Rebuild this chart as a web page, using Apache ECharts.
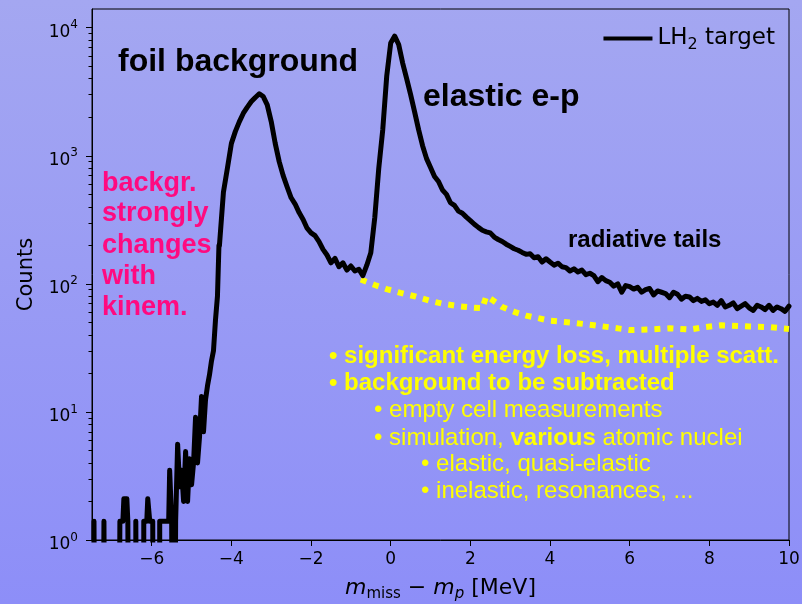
<!DOCTYPE html>
<html><head><meta charset="utf-8">
<script src="https://cdn.jsdelivr.net/npm/echarts@6/dist/echarts.min.js"></script>
<style>
html,body{margin:0;padding:0;}
body{width:802px;height:604px;background:linear-gradient(to bottom,#a4a7f1,#8d8ef8);}
#c{width:802px;height:604px;}
</style>
</head><body><div id="c"></div>
<script>
// ---- axis ranges & ticks ----
const xMin = -7.5, xMax = 10, yMin = 1, yMax = 14000;
const xTicks = [-6, -4, -2, 0, 2, 4, 6, 8, 10];
const yDecades = [0, 1, 2, 3, 4];

// ---- LH2 target histogram, low-count region (0.05 MeV bins from -7.5) ----
const lowStart = -7.5, lowStep = 0.05;
const lowCounts = [0,1.4,0,0,0,0,1.4,0,0,0, 0,0,0,0,1.4,1.4,2.1,2.1,1.4,0,
  0,0,1.4,0,0,0,1.4,1.4,2.1,1.4, 1.4,0,0,0,1.4,1.4,1.4,1.4,1.4,3.5,
  1.4,0,1.4,5.6,2.6,3.5,2.0,4.9,2.0,4.3, 2.7,4.0,9.1,4.0,6.4,13.2,7.0,12.4,16,19.5,
  25,30,52,80];

// ---- LH2 target histogram, main region (0.1 MeV steps from -4.3) ----
const mainStart = -4.3, mainStep = 0.1;
const mainCounts = [200,520,800,1250,1550,1850,2150,2400,2650,2850,
  3050,2900,2500,1850,1250,900,700,570,470,420,
  360,318,272,250,238,214,186,168,146,158,
  136,146,128,138,126,130,116,140,175,330,
  800,1600,4200,7600,8600,7400,5300,4000,3000,2200,
  1600,1200,950,810,690,630,540,500,430,410,
  370,356,332,312,292,276,262,255,250,232,
  222,214,204,196,188,183,176,170,172,160,
  163,148,157,148,140,145,136,134,126,131,
  124,128,118,121,116,104,112,106,103,96,
  100,86,97,95,91,94,86,90,92,82,
  88,86,84,78,86,83,76,80,79,74,
  77,73,75,70,72,68,74,66,68,71,
  64,67,70,65,62,68,66,63,68,62,
  66,64,61,67];

// ---- yellow dotted background estimate ----
const bgX = [-0.75,-0.4,-0.1,0.25,0.6,1.0,1.3,1.7,2.0,2.3,2.4,2.55,2.8,3.1,3.4,3.7,4.0,4.5,5.0,5.5,6.0,6.5,7.0,7.5,7.9,8.3,9.0,9.5,10];
const bgY = [108,98,91,85,80,73.5,70,67,65.5,64.5,80,75,66,60.5,56.5,54,51.5,50,48,45.8,43.6,44,45,44,46,47.5,46.5,46,44.5];

// ---- build series data ----
const mainData = mainCounts.map((v, i) => [+(mainStart + i * mainStep).toFixed(2), v]);
const lowData = lowCounts.map((v, i) => [lowStart + (i + 0.5) * lowStep, v > 0 ? v : 1e-3]).concat([mainData[0]]);
const bgData = bgX.map((x, i) => [x, bgY[i]]);
const logMax = Math.log10(yMax);
const minorTicks = [];
yDecades.forEach(d => { for (let k = 2; k <= 9; k++) { const v = k * Math.pow(10, d); if (v <= yMax) minorTicks.push(Math.log10(v)); } });

const dv = 'DejaVu Sans', ls = 'Liberation Sans';
const T = (x, y, text, size, weight, color, rich) => ({
  type: 'text', x: x, y: y, z: 100,
  style: { text: text, fontSize: size, fontWeight: weight, fontFamily: ls, fill: color, verticalAlign: 'middle', align: 'left', rich: rich }
});
const yel = '#ffff00', pink = '#ff0a80';
const yb = { b: { fontSize: 24, fontWeight: 'bold', fontFamily: ls, fill: yel, color: yel } };

const chart = echarts.init(document.getElementById('c'), null, { renderer: 'canvas' });
chart.setOption({
  animation: false,
  backgroundColor: 'transparent',
  grid: { left: 92, right: 13, top: 9, bottom: 64, show: true, borderColor: '#000', borderWidth: 1, backgroundColor: 'transparent', outerBoundsMode: 'none' },
  legend: {
    data: [{ name: 'LH2 target', icon: 'rect' }],
    right: 22, top: 22, itemWidth: 49, itemHeight: 4, itemGap: 6, selectedMode: false,
    itemStyle: { color: '#000' },
    formatter: () => '{n|LH}{s|2}{n| target}',
    textStyle: { rich: {
      n: { fontSize: 23, fontFamily: dv, color: '#000', lineHeight: 23, verticalAlign: 'top' },
      s: { fontSize: 16, fontFamily: dv, color: '#000', lineHeight: 16, padding: [10, 0, 0, 0], verticalAlign: 'top' }
    } }
  },
  xAxis: {
    type: 'value', min: xMin, max: xMax,
    axisLine: { show: true, onZero: false, lineStyle: { color: '#000', width: 1 } },
    axisTick: { show: true, customValues: xTicks, length: 6, lineStyle: { color: '#000', width: 1 } },
    axisLabel: { customValues: xTicks, formatter: v => v < 0 ? '\u2212' + (-v) : String(v), color: '#000', fontSize: 17, fontFamily: dv, margin: 11 },
    splitLine: { show: false },
    name: '{i|m}{s|miss}{t| \u2212 }{i|m}{si|p}{t| [MeV]}',
    nameLocation: 'middle', nameGap: 37,
    nameTextStyle: { rich: {
      i: { fontSize: 22, fontStyle: 'italic', fontFamily: dv, color: '#000', lineHeight: 22, verticalAlign: 'top' },
      t: { fontSize: 22, fontFamily: dv, color: '#000', lineHeight: 22, verticalAlign: 'top' },
      s: { fontSize: 15, fontFamily: dv, color: '#000', lineHeight: 15, padding: [10, 0, 0, 0], verticalAlign: 'top' },
      si: { fontSize: 15, fontStyle: 'italic', fontFamily: dv, color: '#000', lineHeight: 15, padding: [10, 0, 0, 0], verticalAlign: 'top' }
    } }
  },
  yAxis: [
    {
      type: 'log', logBase: 10, min: yMin, max: yMax, position: 'left',
      axisLine: { show: true, onZero: false, lineStyle: { color: '#000', width: 1 } },
      axisTick: { show: false }, axisLabel: { show: false }, splitLine: { show: false },
      name: 'Counts', nameLocation: 'middle', nameGap: 55,
      nameTextStyle: { fontSize: 21, fontFamily: dv, color: '#000' }
    },
    {
      type: 'value', min: 0, max: logMax, position: 'left',
      axisLine: { show: false, onZero: false },
      axisTick: { show: true, customValues: yDecades, length: 6, lineStyle: { color: '#000', width: 1 } },
      axisLabel: { customValues: yDecades, formatter: v => '{b|10}{p|' + v + '}', margin: 14,
        rich: {
          b: { fontSize: 17, fontFamily: dv, color: '#000', lineHeight: 17, padding: [5, 0, 3, 0], verticalAlign: 'top' },
          p: { fontSize: 12, fontFamily: dv, color: '#000', lineHeight: 12, padding: [0, 0, 0, 0], verticalAlign: 'top' }
        } },
      splitLine: { show: false }
    },
    {
      type: 'value', min: 0, max: logMax, position: 'left',
      axisLine: { show: false, onZero: false },
      axisTick: { show: true, customValues: minorTicks, length: 3.5, lineStyle: { color: '#000', width: 1 } },
      axisLabel: { show: false }, splitLine: { show: false }
    }
  ],
  series: [
    { type: 'line', name: 'LH2 target', data: lowData, step: 'middle', symbol: 'none', color: '#000',
      lineStyle: { color: '#000', width: 5, join: 'round', cap: 'round' }, z: 3 },
    { type: 'line', name: 'LH2 target', data: mainData, symbol: 'none', color: '#000',
      lineStyle: { color: '#000', width: 5, join: 'round', cap: 'round' }, z: 3 },
    { type: 'line', name: 'bg', data: bgData, symbol: 'none', color: yel,
      lineStyle: { color: yel, width: 6, type: [6, 7], cap: 'butt' }, z: 2 }
  ],
  graphic: [
    T(118, 62, 'foil background', 32, 'bold', '#000'),
    T(423, 97.5, 'elastic e-p', 32, 'bold', '#000'),
    T(568, 240, 'radiative tails', 24, 'bold', '#000'),
    T(102, 184, 'backgr.', 27, 'bold', pink),
    T(102, 213.3, 'strongly', 27, 'bold', pink),
    T(102, 245.6, 'changes', 27, 'bold', pink),
    T(102, 276.6, 'with', 27, 'bold', pink),
    T(102, 307.6, 'kinem.', 27, 'bold', pink),
    T(329, 356, '\u2022 significant energy loss, multiple scatt.', 24, 'bold', yel),
    T(329, 383.4, '\u2022 background to be subtracted', 24, 'bold', yel),
    T(374, 410, '\u2022 empty cell measurements', 24, 'normal', yel),
    T(374, 438.4, '\u2022 simulation, {b|various} atomic nuclei', 24, 'normal', yel, yb),
    T(421, 464.4, '\u2022 elastic, quasi-elastic', 24, 'normal', yel),
    T(421, 491.7, '\u2022 inelastic, resonances, ...', 24, 'normal', yel)
  ]
});
</script>
</body></html>
